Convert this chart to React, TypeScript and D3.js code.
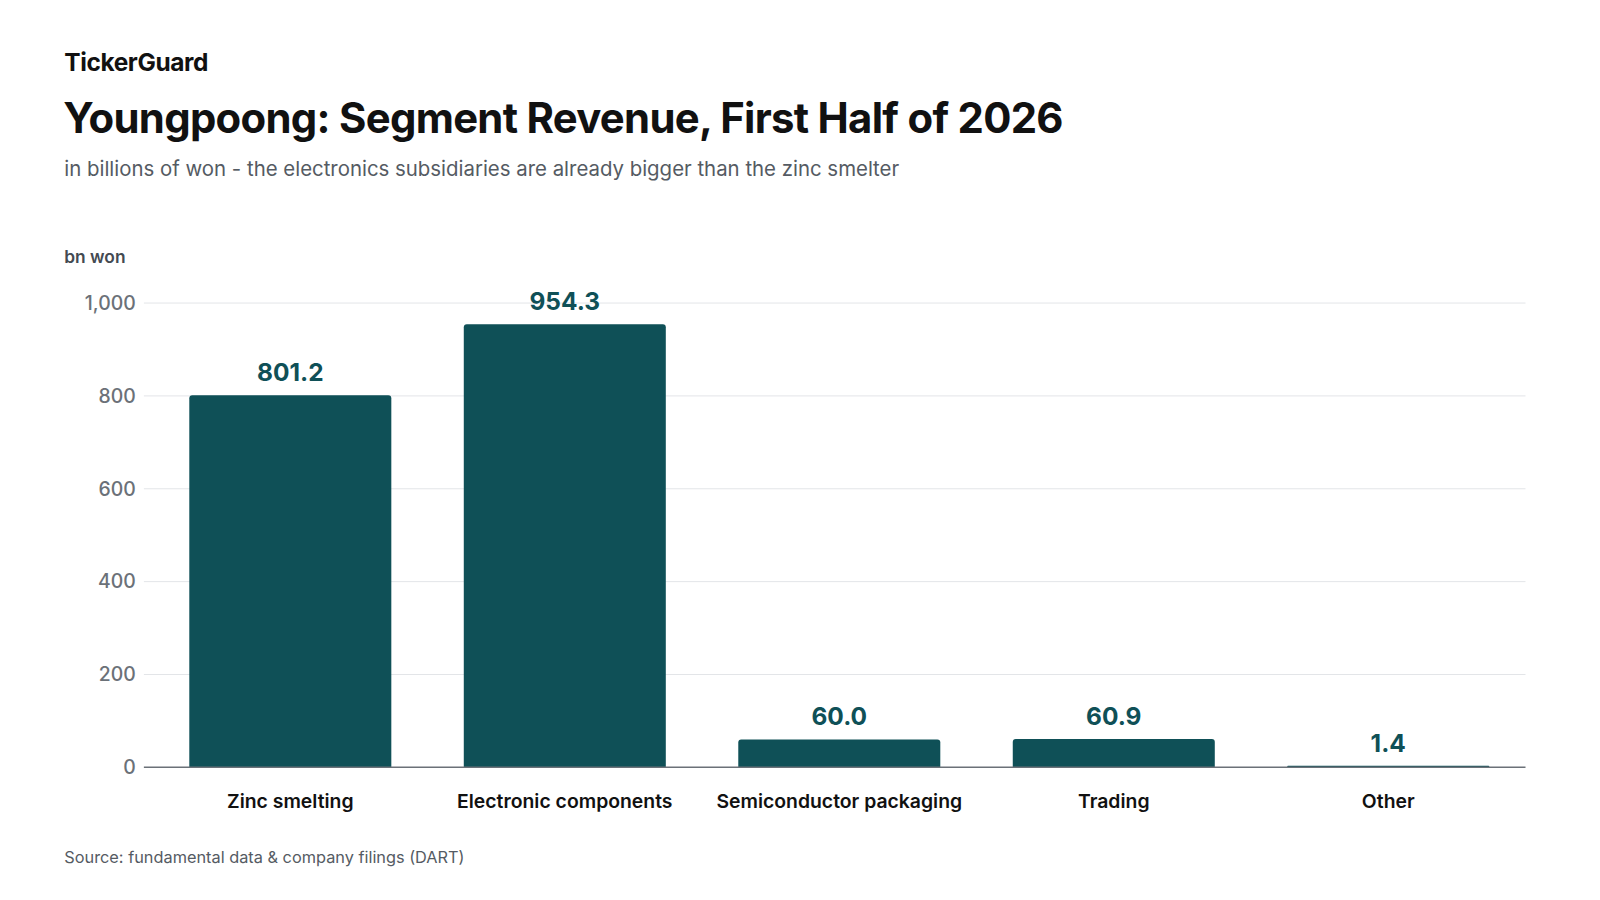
import * as d3 from "d3";

const categories = ["Zinc smelting", "Electronic components", "Semiconductor packaging", "Trading", "Other"];
const values = [801.2, 954.3, 60.0, 60.9, 1.4];
const yTicks = [0, 200, 400, 600, 800, 1000];

const W = 1600;
const H = 900;
const FONT = "Inter, 'Noto Sans', sans-serif";
const BAR = "#0f5057";
const k = 1600 / 1568;

export default function App() {
  const left = 141 * k;
  const right = 1495 * k;
  const top = 297 * k;
  const bottom = 752 * k;

  const x = d3.scaleBand().domain(categories).range([150 * k, right]).paddingInner(0.264).paddingOuter(0.132);
  const y = d3.scaleLinear().domain([0, 1000]).range([bottom, top]);
  const fmt = d3.format(",");

  return (
    <svg width={W} height={H} style={{ position: "absolute", left: 0, top: 0, background: "#fff" }} fontFamily={FONT}>
      <text x={63 * k} y={70 * k} fontSize={24 * k} fontWeight={700} fill="#111" letterSpacing={-0.4}>TickerGuard</text>
      <text x={62 * k} y={130 * k} fontSize={41 * k} fontWeight={700} fill="#111" letterSpacing={-0.7}>
        Youngpoong: Segment Revenue, First Half of 2026
      </text>
      <text x={63 * k} y={172 * k} fontSize={20 * k} fill="#555b63">
        in billions of won - the electronics subsidiaries are already bigger than the zinc smelter
      </text>
      <text x={63 * k} y={258 * k} fontSize={17 * k} fontWeight={600} fill="#444a52">bn won</text>

      {yTicks.map((t) => (
        <g key={t}>
          {t > 0 && <line x1={left} x2={right} y1={y(t)} y2={y(t)} stroke="#e3e5e8" strokeWidth={1} />}
          <text x={133 * k} y={y(t)} dy="0.35em" textAnchor="end" fontSize={19 * k} fontWeight={500} fill="#6b7178">
            {fmt(t)}
          </text>
        </g>
      ))}

      {categories.map((c, i) => {
        const bx = x(c) ?? 0;
        const by = y(values[i]);
        const h = Math.max(bottom - by, 1.5);
        const r = Math.min(3, h / 2);
        const w = x.bandwidth();
        const path = `M${bx},${bottom} V${bottom - h + r} Q${bx},${bottom - h} ${bx + r},${bottom - h} H${bx + w - r} Q${bx + w},${bottom - h} ${bx + w},${bottom - h + r} V${bottom} Z`;
        return (
          <g key={c}>
            <path d={path} fill={BAR} />
            <text x={bx + w / 2} y={bottom - h - 14 * k} textAnchor="middle" fontSize={24 * k} fontWeight={700} fill={BAR}>
              {values[i].toFixed(1)}
            </text>
            <text x={bx + w / 2} y={792 * k} textAnchor="middle" fontSize={19 * k} fontWeight={600} fill="#111">
              {c}
            </text>
          </g>
        );
      })}

      <line x1={left} x2={right} y1={bottom} y2={bottom} stroke="#6b7178" strokeWidth={1.5} />

      <text x={63 * k} y={846 * k} fontSize={16 * k} fill="#555b63">Source: fundamental data &amp; company filings (DART)</text>
    </svg>
  );
}
